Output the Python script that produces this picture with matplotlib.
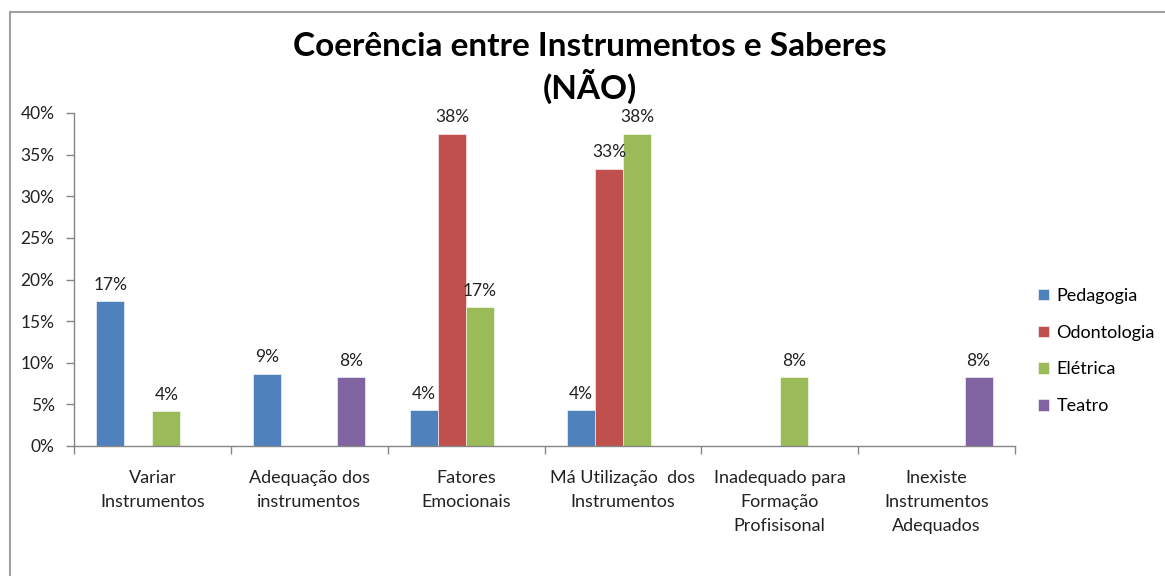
import matplotlib
matplotlib.use("Agg")
import matplotlib.pyplot as plt
from matplotlib.patches import Rectangle
from matplotlib.ticker import FixedLocator, PercentFormatter

plt.rcParams['font.family'] = ['Lato', 'DejaVu Sans']

categories = ["Variar\nInstrumentos", "Adequação dos\ninstrumentos", "Fatores\nEmocionais",
              "Má Utilização  dos\nInstrumentos", "Inadequado para\nFormação\nProfisisonal",
              "Inexiste\nInstrumentos\nAdequados"]
series_names = ["Pedagogia", "Odontologia", "Elétrica", "Teatro"]
pedagogia = [17.4, 8.7, 4.3, 4.3, 0, 0]
odontologia = [0, 0, 37.5, 33.3, 0, 0]
eletrica = [4.2, 0, 16.7, 37.5, 8.3, 0]
teatro = [0, 8.3, 0, 0, 0, 8.3]
colors = ["#4F81BD", "#C0504D", "#9BBB59", "#8064A2"]
yticks = [0, 5, 10, 15, 20, 25, 30, 35, 40]

W, H = 1165, 576
fig = plt.figure(figsize=(W / 100, H / 100), dpi=100)
fig.patches.append(Rectangle((10 / W, -0.1), 1.2, 1.1 - 12 / H + 0.0, transform=fig.transFigure,
                             fill=False, edgecolor="#A0A0A0", linewidth=1.5))
ax = fig.add_axes([74 / W, 130 / H, (1015 - 74) / W, (446 - 113) / H])

bw = 28 / 156.8
all_vals = [pedagogia, odontologia, eletrica, teatro]
for j, (name, vals, c) in enumerate(zip(series_names, all_vals, colors)):
    xs = [i + 0.5 + (j - 1.5) * bw for i in range(len(categories))]
    bars = ax.bar(xs, vals, width=bw, color=c, label=name, edgecolor="white", linewidth=0.4)
    for x, v in zip(xs, vals):
        if v > 0:
            ax.annotate(f"{round(v):d}%", (x, v), xytext=(0, 6), textcoords="offset points",
                        ha="center", va="bottom", fontsize=12.5, color="#222222")

ax.set_xlim(0, len(categories))
ax.set_ylim(0, 40)
ax.set_yticks(yticks)
ax.yaxis.set_major_formatter(PercentFormatter(decimals=0))
ax.xaxis.set_major_locator(FixedLocator(range(len(categories) + 1)))
ax.xaxis.set_minor_locator(FixedLocator([i + 0.5 for i in range(len(categories))]))
ax.set_xticklabels([])
ax.set_xticklabels(categories, minor=True)
ax.tick_params(axis="x", which="major", length=6, direction="out", color="#868686", width=1)
ax.tick_params(axis="x", which="minor", length=0, pad=17, labelsize=13, labelcolor="#222222")
ax.tick_params(axis="y", length=6, direction="out", color="#868686", width=1,
               labelsize=12.5, labelcolor="#222222", pad=8)
for lbl in ax.get_xticklabels(minor=True):
    lbl.set_horizontalalignment("center")
    lbl.set_multialignment("center")
    lbl.set_linespacing(1.63)
for s in ["top", "right"]:
    ax.spines[s].set_visible(False)
for s in ["left", "bottom"]:
    ax.spines[s].set_color("#868686")
    ax.spines[s].set_linewidth(1)

fig.text(590 / W, 1 - 68 / H, "Coerência entre Instrumentos e Saberes\n(NÃO)", ha="center",
         va="center", fontsize=24, fontweight="bold", linespacing=1.25, color="black")

ax.legend(loc="center left", bbox_to_anchor=(1031 / W, 1 - 351 / H), bbox_transform=fig.transFigure,
          frameon=False, fontsize=13, handlelength=0.6, handleheight=0.6, handletextpad=0.4,
          labelspacing=1.15, borderaxespad=0)

fig.savefig("out.png", dpi=100)
